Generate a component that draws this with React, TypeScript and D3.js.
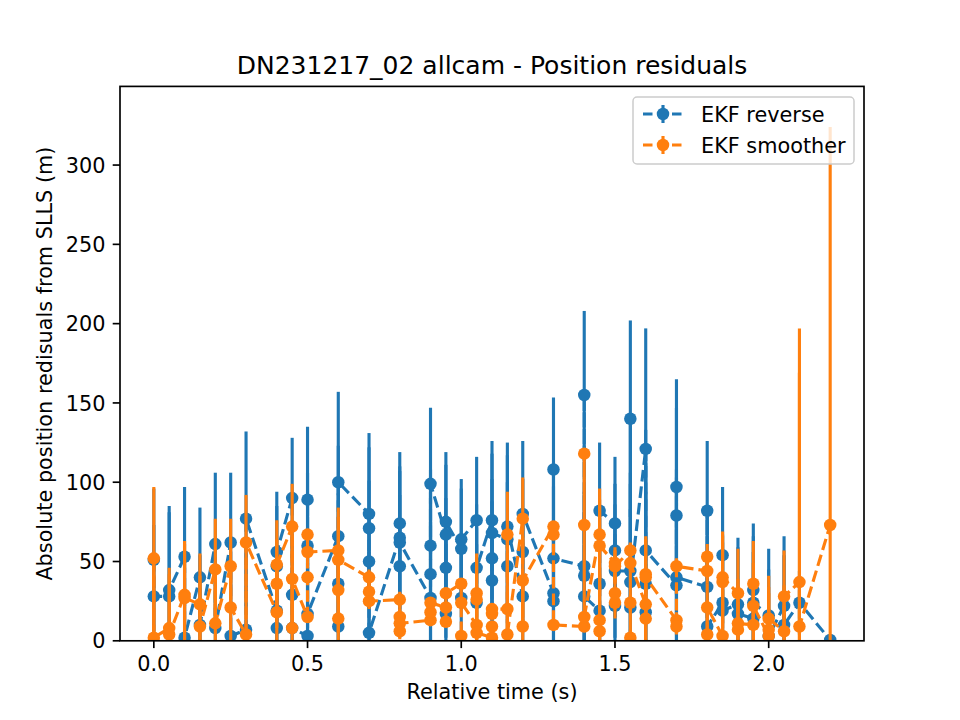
import React from "react";
import * as d3 from "d3";

const W = 960;
const H = 720;
const MARGIN = { left: 120, right: 96, top: 86.4, bottom: 79.2 };
const BLUE = "#1f77b4";
const ORANGE = "#ff7f0e";
const FONT = "DejaVu Sans, Liberation Sans, sans-serif";

// one entry per epoch; each epoch has several camera residuals (in camera order)
const times = [
  0, 0.05, 0.1, 0.15, 0.2, 0.25, 0.3, 0.4, 0.45, 0.5, 0.6, 0.7, 0.8, 0.9, 0.95,
  1.0, 1.05, 1.1, 1.15, 1.2, 1.3, 1.4, 1.45, 1.5, 1.55, 1.6, 1.7, 1.8, 1.85,
  1.9, 1.95, 2.0, 2.05, 2.1, 2.2,
];

const reverseValues = [
  [51, 28], [28, 32], [53, 2], [40, 10], [61, 8], [62, 3], [7, 77],
  [19, 8, 47, 56], [90, 29, 8], [3, 60, 89, 17], [66, 9, 36, 100],
  [80, 71, 50, 5], [65, 74, 47, 62], [27, 42, 60, 99], [67, 17, 46, 75],
  [58, 27, 64], [76, 24, 46], [76, 38, 52, 68], [64, 47, 72], [28, 56, 80],
  [30, 108, 25, 52], [47, 155, 41, 28], [19, 36, 82], [74, 22, 57, 44],
  [44, 140, 21, 37], [121, 18, 36, 57], [35, 97, 79, 40], [34, 82, 9],
  [24, 54, 19], [23, 17], [14, 32, 24], [16, 3], [22, 10], [24], [0.5],
];
const reverseErr = [
  45, 53, 44, 44, 45, 44, 55, 38, 38, 46, 57, 51, 45, 48, 44, 38, 40, 50, 53,
  46, 45.5, 53, 43, 42, 62, 76, 68, 44, 43, 42, 42, 42, 44, 20, 0,
];

const smootherValues = [
  [52, 2], [8, 4], [29, 27], [23, 9], [45, 11], [47, 21], [4, 62],
  [18, 36, 48], [72, 8, 39], [15, 40, 67, 56], [57, 14, 32, 51], [40, 31, 25],
  [26, 6, 15, 11], [13, 18, 24], [21, 12, 30], [36, 3, 24], [10, 30, 26, 5],
  [2, 9, 17, 20], [20, 67, 4], [77, 9, 38], [72, 67, 10], [9, 118, 73, 15],
  [67, 13, 6, 60], [49, 24, 30, 47], [57, 2, 24, 49], [23, 14, 42, 40],
  [13, 9, 47], [44, 53, 4, 21], [3, 37, 40], [30, 7, 11], [10, 36, 22],
  [3, 7, 14], [6, 28], [37, 9], [73],
];
const smootherErr = [
  45, 38, 34, 32, 32, 30, 30, 28, 27, 3, 27, 5, 5, 3, 3, 3, 25, 3, 27, 26, 3,
  3, 29, 10, 5, 24, 5, 8, 29, 28, 27, 27, 29, 160, 251,
];

const xTicks = [0, 0.5, 1.0, 1.5, 2.0];
const yTicks = [0, 50, 100, 150, 200, 250, 300];

type Pt = { t: number; v: number; e: number };

function flatten(vals: number[][], errs: number[]): Pt[] {
  const out: Pt[] = [];
  vals.forEach((group, i) =>
    group.forEach((v) => out.push({ t: times[i], v, e: errs[i] })),
  );
  return out;
}

const series = [
  { name: "EKF reverse", color: BLUE, pts: flatten(reverseValues, reverseErr) },
  { name: "EKF smoother", color: ORANGE, pts: flatten(smootherValues, smootherErr) },
];

export default function App() {
  const x = d3
    .scaleLinear()
    .domain([-0.11, 2.31])
    .range([MARGIN.left, W - MARGIN.right]);
  const y = d3
    .scaleLinear()
    .domain([0, 349.6])
    .range([H - MARGIN.bottom, MARGIN.top]);

  const line = d3
    .line<Pt>()
    .x((d) => x(d.t))
    .y((d) => y(d.v));

  const x0 = MARGIN.left;
  const x1 = W - MARGIN.right;
  const y0 = H - MARGIN.bottom;
  const y1 = MARGIN.top;

  const lw = 3.125;
  const dash = "11.6 5";

  // legend geometry
  const lg = { x: 633, y: 97, w: 221, h: 67 };
  const rows = [114, 145];

  return (
    <svg width={W} height={H} style={{ display: "block", position: "absolute", left: 0, top: 0 }} fontFamily={FONT}>
      <rect width={W} height={H} fill="#fff" />
      <defs>
        <clipPath id="plot">
          <rect x={x0} y={y1} width={x1 - x0} height={y0 - y1} />
        </clipPath>
      </defs>

      <g clipPath="url(#plot)">
        {series.map((s) => (
          <g key={s.name}>
            {s.pts.map((d, i) => (
              <line
                key={i}
                x1={x(d.t)}
                x2={x(d.t)}
                y1={y(d.v - d.e)}
                y2={y(d.v + d.e)}
                stroke={s.color}
                strokeWidth={lw}
              />
            ))}
            <path
              d={line(s.pts) || ""}
              fill="none"
              stroke={s.color}
              strokeWidth={lw}
              strokeDasharray={dash}
            />
            {s.pts.map((d, i) => (
              <circle key={i} cx={x(d.t)} cy={y(d.v)} r={6.25} fill={s.color} />
            ))}
          </g>
        ))}
      </g>

      {/* axes frame */}
      <rect
        x={x0}
        y={y1}
        width={x1 - x0}
        height={y0 - y1}
        fill="none"
        stroke="#000"
        strokeWidth={1.67}
      />

      {xTicks.map((t) => (
        <g key={t}>
          <line x1={x(t)} x2={x(t)} y1={y0} y2={y0 + 7.3} stroke="#000" strokeWidth={1.67} />
          <text x={x(t)} y={670.5} textAnchor="middle" fontSize={20.8}>
            {t.toFixed(1)}
          </text>
        </g>
      ))}
      {yTicks.map((t) => (
        <g key={t}>
          <line x1={x0 - 7.3} x2={x0} y1={y(t)} y2={y(t)} stroke="#000" strokeWidth={1.67} />
          <text x={105.4} y={y(t) + 7.6} textAnchor="end" fontSize={20.8}>
            {t}
          </text>
        </g>
      ))}

      <text x={(x0 + x1) / 2} y={73.9} textAnchor="middle" fontSize={25}>
        DN231217_02 allcam - Position residuals
      </text>
      <text x={(x0 + x1) / 2} y={699} textAnchor="middle" fontSize={20.8}>
        Relative time (s)
      </text>
      <text
        x={52}
        y={(y0 + y1) / 2}
        textAnchor="middle"
        fontSize={20.8}
        transform={`rotate(-90, 52, ${(y0 + y1) / 2})`}
      >
        Absolute position redisuals from SLLS (m)
      </text>

      {/* legend */}
      <rect
        x={lg.x}
        y={lg.y}
        width={lg.w}
        height={lg.h}
        rx={4}
        fill="#fff"
        fillOpacity={0.8}
        stroke="#cccccc"
        strokeWidth={1.5}
      />
      {series.map((s, i) => (
        <g key={s.name}>
          <line
            x1={642}
            x2={684}
            y1={rows[i]}
            y2={rows[i]}
            stroke={s.color}
            strokeWidth={lw}
            strokeDasharray="9.5 5"
            strokeDashoffset={-1}
          />
          <line x1={663} x2={663} y1={rows[i] - 9} y2={rows[i] + 9} stroke={s.color} strokeWidth={lw} />
          <circle cx={663} cy={rows[i]} r={6.25} fill={s.color} />
          <text x={701} y={rows[i] + 7.5} fontSize={20.8}>
            {s.name}
          </text>
        </g>
      ))}
    </svg>
  );
}
